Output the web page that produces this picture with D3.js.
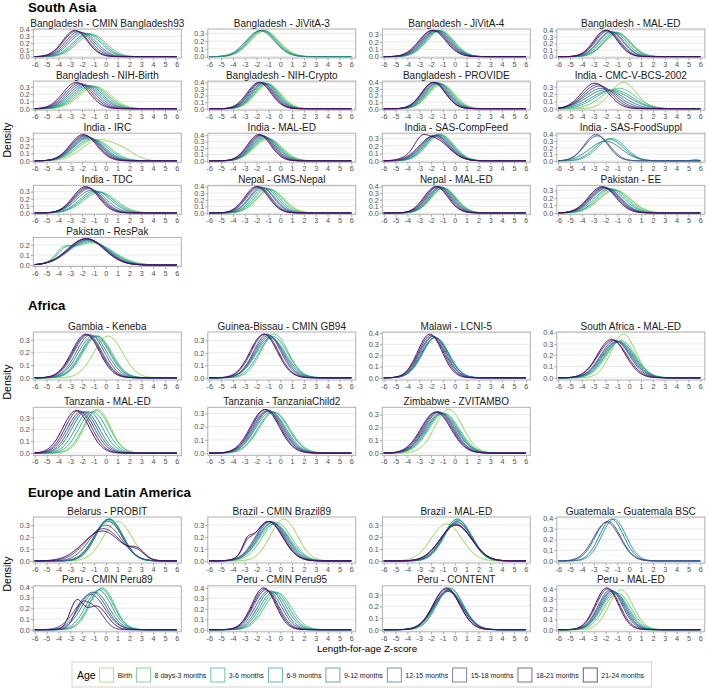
<!DOCTYPE html>
<html><head><meta charset="utf-8">
<script src="https://cdn.jsdelivr.net/npm/d3@7"></script>
<style>
body{margin:0;background:#fff;}
text{font-family:"Liberation Sans",Arial,Helvetica,sans-serif;}
</style>
</head><body>
<svg id="c" width="708" height="689"></svg>
<script>
// ---------------- DATA ----------------
const ageGroups = ["Birth","8 days-3 months","3-6 months","6-9 months","9-12 months","12-15 months","15-18 months","18-21 months","21-24 months"];
const sectionTitles = ["South Asia","Africa","Europe and Latin America"];
const panelNames = [
 "Bangladesh - CMIN Bangladesh93","Bangladesh - JiVitA-3","Bangladesh - JiVitA-4","Bangladesh - MAL-ED",
 "Bangladesh - NIH-Birth","Bangladesh - NIH-Crypto","Bangladesh - PROVIDE","India - CMC-V-BCS-2002",
 "India - IRC","India - MAL-ED","India - SAS-CompFeed","India - SAS-FoodSuppl",
 "India - TDC","Nepal - GMS-Nepal","Nepal - MAL-ED","Pakistan - EE",
 "Pakistan - ResPak",
 "Gambia - Keneba","Guinea-Bissau - CMIN GB94","Malawi - LCNI-5","South Africa - MAL-ED",
 "Tanzania - MAL-ED","Tanzania - TanzaniaChild2","Zimbabwe - ZVITAMBO",
 "Belarus - PROBIT","Brazil - CMIN Brazil89","Brazil - MAL-ED","Guatemala - Guatemala BSC",
 "Peru - CMIN Peru89","Peru - CMIN Peru95","Peru - CONTENT","Peru - MAL-ED"
];
const panelSection = [0,0,0,0,0,0,0,0,0,0,0,0,0,0,0,0,0, 1,1,1,1,1,1,1, 2,2,2,2,2,2,2,2];
const xTicks = [-6,-5,-4,-3,-2,-1,0,1,2,3,4,5,6];
// Mode (Z-score at the peak) of each age group's density
const modeZ = [
 [null,-1.2,-1.4,-1.6,-1.9,-2.1,-2.3,-2.5,-2.6],
 [-1.3,-1.4,-1.5,-1.6,-1.7,null,null,null,null],
 [null,-1.2,-1.3,-1.4,-1.5,-1.6,-1.7,-1.8,-1.9],
 [-1.0,-1.0,-1.1,-1.3,-1.5,-1.6,-1.8,-1.9,-2.0],
 [-0.9,-1.1,-1.3,-1.5,-1.7,-1.9,-2.1,-2.3,-2.5],
 [-1.0,-1.1,-1.2,-1.3,-1.4,-1.5,-1.6,-1.7,-1.8],
 [-1.1,-1.2,-1.3,-1.4,-1.5,-1.6,-1.7,-1.8,-1.8],
 [-0.5,-0.9,-1.3,-1.6,-2.0,-2.3,-2.5,-2.7,-2.9],
 [-0.6,-1.0,-1.2,-1.4,-1.5,-1.6,-1.7,-1.8,-1.9],
 [-1.0,-1.1,-1.2,-1.3,-1.4,-1.5,-1.6,-1.7,-1.8],
 [null,-1.2,-1.3,-1.4,-1.5,-1.6,-1.7,-1.8,-1.9],
 [null,null,-1.5,-1.7,-2.0,-2.7,-2.8,null,null],
 [null,-0.5,-0.7,-0.9,-1.2,-1.4,-1.5,-1.6,-1.7],
 [-0.8,-0.9,-1.1,-1.3,-1.5,-1.6,-1.8,-1.9,-2.0],
 [-0.9,-1.0,-1.0,-1.1,-1.2,-1.3,-1.4,-1.5,-1.6],
 [-1.2,-1.3,-1.5,-1.7,-1.9,-2.0,-2.1,-2.2,-2.3],
 [null,-1.2,-1.3,-1.4,-1.5,-1.5,-1.6,-1.6,-1.7],
 [0.2,-0.7,-0.8,-0.9,-1.1,-1.3,-1.5,-1.6,-1.7],
 [null,-0.5,-0.6,-0.8,-0.9,-1.0,-1.1,-1.3,-1.4],
 [null,null,-1.6,-1.65,-1.7,-1.8,-1.9,-2.0,-2.1],
 [-0.5,-0.7,-0.8,-0.9,-1.0,-1.1,-1.2,-1.4,-1.5],
 [-0.7,-0.8,-1.1,-1.4,-1.7,-1.9,-2.1,-2.3,-2.5],
 [null,-0.5,-0.6,-0.8,-0.9,-1.0,-1.1,-1.2,-1.3],
 [-0.5,-0.9,-1.0,-1.1,-1.2,-1.3,-1.4,-1.5,-1.6],
 [1.0,0.2,0.2,0.3,0.3,0.2,0.0,-0.2,-0.3],
 [0.3,-0.3,-0.5,-0.6,-0.7,-0.8,-0.9,-1.0,-1.0],
 [-0.7,0.2,0.2,0.3,0.2,0.2,0.1,0.1,0.1],
 [null,null,null,-1.3,-1.5,-1.8,-1.9,null,null],
 [null,-0.3,-0.4,-0.6,-0.9,-1.1,-1.3,-2.1,-2.5],
 [null,-0.2,-0.4,-0.6,-0.8,-1.0,-1.2,-1.3,-1.4],
 [null,-0.4,-0.4,-0.5,-0.5,-0.6,-0.6,-0.7,-0.7],
 [-0.7,-1.0,-1.2,-1.3,-1.4,-1.5,-1.6,-1.8,-1.9]
];
// Peak density of each age group's curve
const peakDensity = [
 [null,.33,.34,.34,.35,.36,.37,.38,.39],
 [.33,.335,.34,.34,.335,null,null,null,null],
 [null,.35,.35,.35,.35,.35,.35,.355,.355],
 [.35,.36,.37,.37,.38,.38,.39,.40,.40],
 [.30,.31,.31,.32,.32,.33,.34,.35,.36],
 [.37,.38,.38,.39,.39,.39,.40,.40,.40],
 [.37,.38,.38,.39,.39,.39,.40,.40,.40],
 [.36,.28,.26,.25,.26,.28,.31,.33,.35],
 [.28,.29,.30,.31,.32,.33,.34,.35,.36],
 [.34,.35,.36,.37,.38,.39,.40,.40,.41],
 [null,.35,.35,.35,.34,.34,.34,.33,.31],
 [null,null,.34,.33,.30,.38,.40,null,null],
 [null,.29,.30,.31,.32,.34,.35,.36,.37],
 [.35,.36,.37,.38,.38,.39,.39,.40,.40],
 [.37,.38,.38,.39,.39,.39,.40,.40,.40],
 [.30,.31,.32,.32,.33,.33,.34,.34,.35],
 [null,.22,.23,.24,.25,.25,.26,.26,.26],
 [.33,.33,.33,.33,.33,.34,.34,.34,.345],
 [null,.35,.33,.32,.33,.34,.35,.35,.35],
 [null,null,.36,.36,.36,.37,.37,.38,.39],
 [.385,.33,.32,.32,.32,.32,.33,.33,.34],
 [.37,.36,.35,.35,.35,.35,.35,.36,.36],
 [null,.31,.31,.31,.32,.32,.32,.33,.33],
 [.34,.31,.31,.31,.31,.32,.32,.32,.32],
 [.33,.34,.35,.35,.35,.33,.30,.27,.25],
 [.35,.32,.31,.32,.32,.33,.33,.33,.33],
 [.31,.35,.35,.34,.33,.32,.31,.30,.30],
 [null,null,null,.39,.39,.37,.36,null,null],
 [null,.39,.38,.37,.35,.35,.33,.20,.24],
 [null,.35,.36,.36,.37,.37,.38,.39,.40],
 [null,.36,.35,.34,.33,.33,.34,.35,.36],
 [.39,.36,.36,.37,.38,.38,.39,.40,.41]
];
// Secondary humps / shoulders: [panel, age group, Z-score, density, spread]
const shoulders = [
 [8,0,1.6,0.09,1.0],
 [10,8,-2.9,0.10,0.5],
 [11,2,5.6,0.02,0.3],
 [16,1,-3.6,0.09,0.6],[16,2,-3.5,0.07,0.6],
 [24,7,2.7,0.06,0.6],[24,8,2.7,0.07,0.6],
 [25,7,-2.8,0.07,0.4],[25,8,-2.8,0.09,0.4],
 [28,7,-0.9,0.19,0.75],[28,8,-0.8,0.22,0.9]
];
// Narrow main peaks for bimodal curves: [panel, age group, spread]
const spreadOverride = [[28,7,0.6],[28,8,0.55]];

// ---------------- DRAW ----------------
const svg = d3.select("#c");
const colours = ageGroups.map((d,i) => d3.interpolateViridis(0.82 - i*0.1025));
const sectionLayout = [
 {top0: 29,  pitch: 52.1, h: 29, titleY: 11.5, densY: 140},
 {top0: 332, pitch: 75.3, h: 48, titleY: 310,  densY: 382},
 {top0: 517, pitch: 68.8, h: 46, titleY: 497,  densY: 574}
];
const colLeft = c => 33.3 + c * 174.5;
const PW = 148;
const evalGrid = d3.range(-6, 6.0001, 0.05);
const gaussShape = (x, mu, sd) => Math.exp(-0.5 * ((x - mu) / sd) ** 2);

sectionTitles.forEach((t, si) => {
  const L = sectionLayout[si];
  svg.append("text").attr("x", 28).attr("y", L.titleY)
    .attr("font-size", 13.2).attr("font-weight", "bold").attr("fill", "#000").text(t);
  svg.append("text").attr("transform", `translate(11,${L.densY}) rotate(-90)`)
    .attr("text-anchor", "middle").attr("font-size", 10.5).attr("fill", "#000").text("Density");
});

const counters = [0,0,0];
panelNames.forEach((name, p) => {
  const si = panelSection[p];
  const k = counters[si]++;
  const L = sectionLayout[si];
  const row = Math.floor(k / 4), col = k % 4;
  const left = colLeft(col), top = L.top0 + row * L.pitch, h = L.h;

  const series = [];
  modeZ[p].forEach((mu, s) => {
    if (mu == null) return;
    const pk = peakDensity[p][s];
    const ov = spreadOverride.find(d => d[0] === p && d[1] === s);
    const sd = ov ? ov[2] : 1 / (pk * Math.sqrt(2 * Math.PI));
    const extra = shoulders.filter(d => d[0] === p && d[1] === s);
    const pts = evalGrid.map(x => [x, pk * gaussShape(x, mu, sd) +
      d3.sum(extra, e => e[3] * gaussShape(x, e[2], e[4]))]);
    series.push({s, pts});
  });
  const ymax = d3.max(series, d => d3.max(d.pts, q => q[1]));

  const x = d3.scaleLinear().domain([-6.12, 6.38]).range([left, left + PW]);
  const y = d3.scaleLinear().domain([-0.05 * ymax, 1.05 * ymax]).range([top + h, top]);
  const yt = d3.range(0, 1.05 * ymax + 1e-9, 0.1);
  const ytMinor = d3.range(0.05, 1.05 * ymax + 1e-9, 0.1);

  const g = svg.append("g");
  g.selectAll(".mn").data(ytMinor).join("line")
    .attr("x1", left).attr("x2", left + PW).attr("y1", d => y(d)).attr("y2", d => y(d))
    .attr("stroke", "#f0f0f0").attr("stroke-width", 0.5);
  g.selectAll(".mj").data(yt).join("line")
    .attr("x1", left).attr("x2", left + PW).attr("y1", d => y(d)).attr("y2", d => y(d))
    .attr("stroke", "#e3e3e3").attr("stroke-width", 0.8);

  const line = d3.line().x(d => x(d[0])).y(d => y(d[1])).curve(d3.curveLinear);
  series.forEach(d => {
    g.append("path").attr("d", line(d.pts)).attr("fill", "none")
      .attr("stroke", colours[d.s]).attr("stroke-width", 1);
  });

  g.append("rect").attr("x", left).attr("y", top).attr("width", PW).attr("height", h)
    .attr("fill", "none").attr("stroke", "#a8a8a8").attr("stroke-width", 0.9);

  // x axis
  const xa = g.append("g").attr("transform", `translate(0,${top + h})`)
    .call(d3.axisBottom(x).tickValues(xTicks).tickFormat(d3.format("d")).tickSize(2.5).tickPadding(1.5));
  xa.select(".domain").remove();
  xa.selectAll("line").attr("stroke", "#a8a8a8");
  xa.selectAll("text").attr("font-size", 7.2).attr("fill", "#4d4d4d")
    .attr("font-family", '"Liberation Sans",Arial,sans-serif').text(d => d < 0 ? "-" + Math.abs(d) : d);
  // y axis
  const ya = g.append("g").attr("transform", `translate(${left},0)`)
    .call(d3.axisLeft(y).tickValues(yt).tickFormat(d3.format(".1f")).tickSize(2.5).tickPadding(1));
  ya.select(".domain").remove();
  ya.selectAll("line").attr("stroke", "#a8a8a8");
  ya.selectAll("text").attr("font-size", 7.2).attr("fill", "#4d4d4d")
    .attr("font-family", '"Liberation Sans",Arial,sans-serif');

  g.append("text").attr("x", left + PW / 2).attr("y", top - 2.5).attr("text-anchor", "middle")
    .attr("font-size", 10).attr("fill", "#1a1a1a").text(name);
});

// x axis title
svg.append("text").attr("x", 367).attr("y", 652).attr("text-anchor", "middle")
  .attr("font-size", 9.8).attr("fill", "#000").text("Length-for-age Z-score");

// legend
const lg = svg.append("g");
const lgBox = lg.append("rect").attr("y", 662).attr("height", 25).attr("fill", "#fff")
  .attr("stroke", "#c8c8c8").attr("stroke-width", 0.8);
const ageT = lg.append("text").attr("x", 77).attr("y", 678.5).attr("font-size", 10.5).attr("fill", "#000").text("Age");
let cx = 77 + ageT.node().getComputedTextLength() + 4;
ageGroups.forEach((a, i) => {
  lg.append("rect").attr("x", cx).attr("y", 668).attr("width", 14).attr("height", 14)
    .attr("fill", "#fff").attr("stroke", colours[i]).attr("stroke-width", 0.9).attr("opacity", 0.75);
  const t = lg.append("text").attr("x", cx + 18).attr("y", 677.5).attr("font-size", 7).attr("fill", "#1a1a1a").text(a);
  cx += 18 + t.node().getComputedTextLength() + 4.5;
});
lgBox.attr("x", 72).attr("width", cx - 72 + 3);
</script>
</body></html>
